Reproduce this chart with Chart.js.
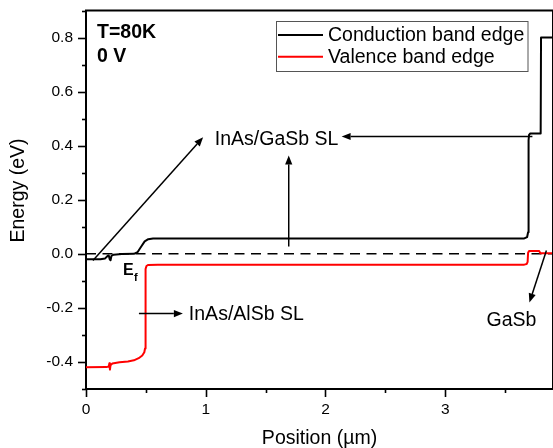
<!DOCTYPE html>
<html>
<head>
<meta charset="utf-8">
<script src="https://cdn.jsdelivr.net/npm/chart.js@4/dist/chart.umd.min.js"></script>
<style>
  html, body { margin: 0; padding: 0; background: #fff; }
  canvas { display: block; }
</style>
</head>
<body>
<canvas id="band" width="553" height="448"></canvas>
<script>
// Band-edge profile of the structure at T = 80 K, zero bias
const conductionX = [0, 0.12, 0.16, 0.18, 0.19, 0.198, 0.205, 0.212, 0.23, 0.3, 0.4, 0.43, 0.46, 0.49, 0.52, 0.56,
                     3.66, 3.684, 3.692, 3.696, 3.7, 3.71, 3.797, 3.8, 3.9];
const conductionE = [-0.02, -0.02, -0.017, -0.008, -0.006, -0.02, -0.024, -0.008, -0.003, -0.001, 0.0, 0.006, 0.026, 0.046, 0.054, 0.057,
                     0.057, 0.062, 0.08, 0.42, 0.44, 0.445, 0.445, 0.8, 0.8];

const valenceX = [0, 0.17, 0.19, 0.195, 0.2, 0.205, 0.22, 0.28, 0.35, 0.4, 0.44, 0.47, 0.487, 0.493, 0.496, 0.499, 0.505, 0.52, 0.6,
                  3.66, 3.68, 3.688, 3.692, 3.7, 3.785, 3.795, 3.9];
const valenceE = [-0.42, -0.419, -0.417, -0.405, -0.428, -0.412, -0.406, -0.401, -0.398, -0.394, -0.386, -0.376, -0.364, -0.35, -0.1, -0.056, -0.045, -0.041, -0.04,
                  -0.04, -0.038, -0.03, 0.004, 0.01, 0.01, 0.002, 0.002];

// Fermi level reference
const fermiX = [0, 3.9];
const fermiE = [0, 0];

const seriesNames = ['Conduction band edge', 'Valence band edge'];

const xMajorTicks = [0, 1, 2, 3];
const xMinorTicks = [0.5, 1.5, 2.5, 3.5];
const yMajorTicks = [-0.4, -0.2, 0.0, 0.2, 0.4, 0.6, 0.8];
const yMinorTicks = [-0.5, -0.3, -0.1, 0.1, 0.3, 0.5, 0.7, 0.9];

const FONT = '"Liberation Sans", Arial, Helvetica, sans-serif';

// Callout arrows, in data units: [fromX, fromY, toX, toY]
const calloutArrows = [
  [0.058, -0.025, 0.978, 0.431],
  [1.693, 0.027, 1.693, 0.364],
  [3.728, 0.434, 2.135, 0.434],
  [0.442, -0.221, 0.809, -0.221],
  [3.845, 0.012, 3.703, -0.18]
];
// Callout labels: [x, y, text, align, weight, size]
const calloutLabels = [
  [1.076, 0.426, 'InAs/GaSb SL', 'left', 'normal', 19.5],
  [0.859, -0.221, 'InAs/AlSb SL', 'left', 'normal', 19.5],
  [3.553, -0.243, 'GaSb', 'center', 'normal', 19.5],
  [0.092, 0.822, 'T=80K', 'left', 'bold', 19.5],
  [0.092, 0.733, '0 V', 'left', 'bold', 19.5]
];

const toPoints = (xs, ys) => xs.map((x, i) => ({ x: x, y: ys[i] }));

function arrow(ctx, x1, y1, x2, y2) {
  const ang = Math.atan2(y2 - y1, x2 - x1);
  const len = 9, half = 3.6;
  const bx = x2 - len * Math.cos(ang), by = y2 - len * Math.sin(ang);
  ctx.beginPath();
  ctx.moveTo(x1, y1);
  ctx.lineTo(bx, by);
  ctx.stroke();
  ctx.beginPath();
  ctx.moveTo(x2, y2);
  ctx.lineTo(bx + half * Math.sin(ang), by - half * Math.cos(ang));
  ctx.lineTo(bx - half * Math.sin(ang), by + half * Math.cos(ang));
  ctx.closePath();
  ctx.fill();
}

const decorations = {
  id: 'decorations',
  afterDraw(chart) {
    const { ctx, chartArea: a, scales: { x, y } } = chart;
    ctx.save();
    ctx.strokeStyle = '#000';
    ctx.fillStyle = '#000';

    // frame: top and right edges
    ctx.lineWidth = 2;
    ctx.beginPath();
    ctx.moveTo(a.left - 1, a.top);
    ctx.lineTo(a.right, a.top);
    ctx.lineTo(a.right, a.bottom);
    ctx.stroke();

    // outward tick marks
    ctx.lineWidth = 1.6;
    const tickY = (v, len) => {
      const p = Math.round(y.getPixelForValue(v)) + 0.5;
      ctx.beginPath(); ctx.moveTo(a.left - len, p); ctx.lineTo(a.left, p); ctx.stroke();
    };
    const tickX = (v, len) => {
      const p = Math.round(x.getPixelForValue(v)) + 0.5;
      ctx.beginPath(); ctx.moveTo(p, a.bottom); ctx.lineTo(p, a.bottom + len); ctx.stroke();
    };
    yMajorTicks.forEach(v => tickY(v, 8));
    yMinorTicks.forEach(v => tickY(v, 4));
    xMajorTicks.forEach(v => tickX(v, 8));
    xMinorTicks.forEach(v => tickX(v, 4));

    // y axis title
    ctx.save();
    ctx.translate(18.5, 190.5);
    ctx.rotate(-Math.PI / 2);
    ctx.font = '19.5px ' + FONT;
    ctx.textAlign = 'center';
    ctx.textBaseline = 'middle';
    ctx.fillText('Energy (eV)', 0, 0);
    ctx.restore();

    // legend
    const lx = 276.5, ly = 21.5, lw = 251.5, lh = 50;
    ctx.lineWidth = 1;
    ctx.strokeStyle = '#555';
    ctx.strokeRect(lx, ly, lw, lh);
    ctx.font = '19.5px ' + FONT;
    ctx.textAlign = 'left';
    ctx.textBaseline = 'middle';
    chart.data.datasets.slice(0, 2).forEach((ds, i) => {
      const cy = 35 + i * 21.7;
      ctx.strokeStyle = ds.borderColor;
      ctx.lineWidth = 2;
      ctx.beginPath(); ctx.moveTo(278, cy); ctx.lineTo(323, cy); ctx.stroke();
      ctx.fillStyle = '#000';
      ctx.fillText(ds.label, 328, cy + 1);
    });

    // callouts
    ctx.strokeStyle = '#000';
    ctx.fillStyle = '#000';
    ctx.lineWidth = 1.5;
    calloutArrows.forEach(([x1, y1, x2, y2]) => {
      arrow(ctx, x.getPixelForValue(x1), y.getPixelForValue(y1), x.getPixelForValue(x2), y.getPixelForValue(y2));
    });
    calloutLabels.forEach(([vx, vy, text, align, weight, size]) => {
      ctx.font = weight + ' ' + size + 'px ' + FONT;
      ctx.textAlign = align;
      ctx.textBaseline = 'middle';
      ctx.fillText(text, x.getPixelForValue(vx), y.getPixelForValue(vy) + 1);
    });

    // Fermi level label
    const ex = x.getPixelForValue(0.309), ey = y.getPixelForValue(-0.058);
    ctx.font = 'bold 16px ' + FONT;
    ctx.textAlign = 'left';
    ctx.textBaseline = 'middle';
    ctx.fillText('E', ex, ey + 1);
    ctx.font = 'bold 11px ' + FONT;
    ctx.textBaseline = 'alphabetic';
    ctx.fillText('f', ex + 11, ey + 11);

    ctx.restore();
  }
};

new Chart(document.getElementById('band'), {
  type: 'line',
  data: {
    datasets: [
      { label: seriesNames[0], data: toPoints(conductionX, conductionE), borderColor: '#000000', borderWidth: 2, order: 1 },
      { label: seriesNames[1], data: toPoints(valenceX, valenceE), borderColor: '#ff0000', borderWidth: 2, order: 2 },
      { label: 'Ef', data: toPoints(fermiX, fermiE), borderColor: '#000000', borderWidth: 1.6, borderDash: [10, 6.5], order: 3 }
    ]
  },
  options: {
    responsive: false,
    animation: false,
    devicePixelRatio: 1,
    layout: { padding: { top: 10.5, right: 0, bottom: 0, left: 0 } },
    elements: { point: { radius: 0 }, line: { tension: 0, borderCapStyle: 'butt', borderJoinStyle: 'round' } },
    plugins: { legend: { display: false }, tooltip: { enabled: false } },
    scales: {
      x: {
        type: 'linear',
        min: 0,
        max: 3.9,
        grid: { display: false, drawTicks: false },
        border: { display: true, color: '#000', width: 2 },
        afterBuildTicks: s => { s.ticks = xMajorTicks.map(v => ({ value: v })); },
        afterFit: s => { s.height = 59; s.paddingLeft = 0; s.paddingRight = 0; },
        ticks: {
          autoSkip: false, maxRotation: 0, padding: 11, color: '#000',
          font: { family: FONT, size: 15.5 },
          callback: v => String(v)
        },
        title: {
          display: true, text: 'Position (µm)', color: '#000',
          font: { family: FONT, size: 19.5, lineHeight: 1 },
          padding: { top: 0, bottom: 0 }
        }
      },
      y: {
        type: 'linear',
        min: -0.5,
        max: 0.9,
        grid: { display: false, drawTicks: false },
        border: { display: true, color: '#000', width: 2 },
        afterBuildTicks: s => { s.ticks = yMajorTicks.map(v => ({ value: v })); },
        afterFit: s => { s.width = 86; s.paddingTop = 0; s.paddingBottom = 0; },
        ticks: {
          autoSkip: false, padding: 13, color: '#000',
          font: { family: FONT, size: 15.5 },
          callback: v => Number(v).toFixed(1)
        }
      }
    }
  },
  plugins: [decorations]
});
</script>
</body>
</html>
